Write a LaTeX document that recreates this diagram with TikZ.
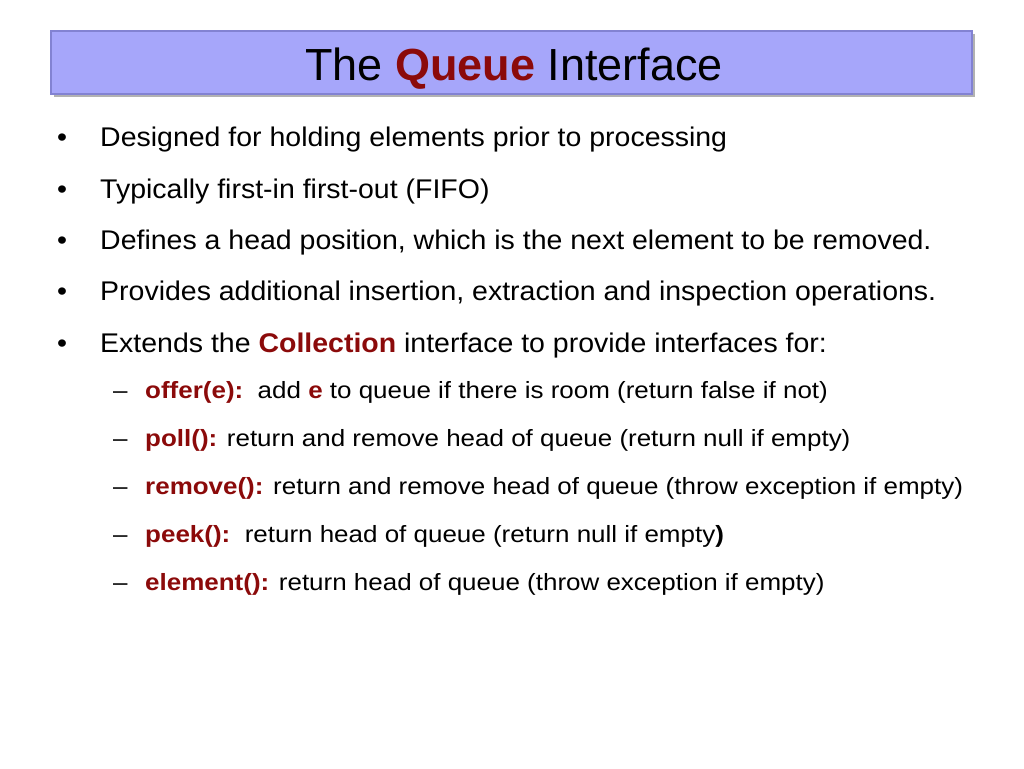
\documentclass[tikz,border=0pt]{standalone}
\usepackage{fontspec}
\setmainfont{Liberation Sans}
\definecolor{dred}{HTML}{8B0A0A}
\definecolor{barfill}{HTML}{A6A6FA}
\definecolor{barline}{HTML}{8282D2}
\begin{document}
\begin{tikzpicture}[x=1pt,y=-1pt,
  bt/.style={anchor=base west,inner sep=0pt,font=\fontsize{27}{30}\selectfont,xscale=1.055,transform shape},
  st/.style={anchor=base west,inner sep=0pt,font=\fontsize{23.5}{26}\selectfont,xscale=1.105,transform shape},
  kw/.style={text=dred}]
\useasboundingbox (0,0) rectangle (1024,768);
\fill[gray!60] (54,34) rectangle (975,97);
\draw[barline,fill=barfill,line width=1.5pt] (51,31) rectangle (972,94);
\node[anchor=base,inner sep=0pt,font=\fontsize{45}{50}\selectfont] (title) at (514,80) {The \textbf{\textcolor{dred}{Queue}} Interface};
\foreach \y/\t [count=\i] in {146/{Designed for holding elements prior to processing},
  198/{Typically first-in first-out (FIFO)},
  249/{Defines a head position, which is the next element to be removed.},
  300/{Provides additional insertion, extraction and inspection operations.},
  352/{Extends the \textbf{\textcolor{dred}{Collection}} interface to provide interfaces for:}}{
  \node[bt] (d\i) at (57,\y) {•};
  \node[bt] (b\i) at (100,\y) {\t};
}
\foreach \y/\t [count=\i] in {398/{\textbf{\textcolor{dred}{offer(e):}}\ \ add \textbf{\textcolor{dred}{e}} to queue if there is room (return false if not)},
  446/{\textbf{\textcolor{dred}{poll():}} return and remove head of queue (return null if empty)},
  494/{\textbf{\textcolor{dred}{remove():}} return and remove head of queue (throw exception if empty)},
  542/{\textbf{\textcolor{dred}{peek():}}\ \ return head of queue (return null if empty\textbf{)}},
  590/{\textbf{\textcolor{dred}{element():}} return head of queue (throw exception if empty)}}{
  \node[st] (m\i) at (113,\y) {–};
  \node[st] (s\i) at (145,\y) {\t};
}
\end{tikzpicture}
\end{document}
